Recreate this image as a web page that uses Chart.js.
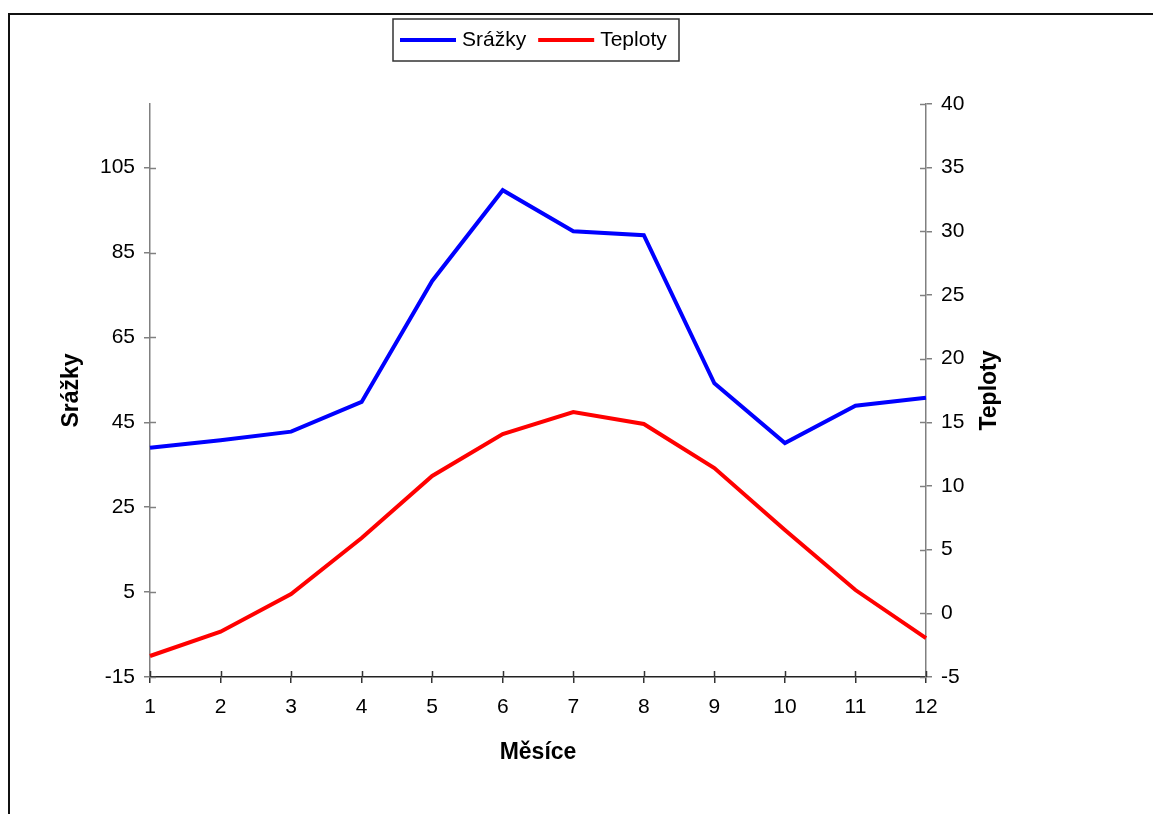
<!DOCTYPE html>
<html lang="cs">
<head>
<meta charset="utf-8">
<title>Srážky a teploty</title>
<script src="https://cdn.jsdelivr.net/npm/chart.js@4.4.1/dist/chart.umd.min.js"></script>
<style>
  html, body { margin: 0; padding: 0; background: #fff; overflow: hidden; }
  #wrap { position: relative; width: 1153px; height: 814px; }
</style>
</head>
<body>
<div id="wrap"><canvas id="chart"></canvas></div>
<script>
// Months and monthly values
const months = ['1', '2', '3', '4', '5', '6', '7', '8', '9', '10', '11', '12'];
const srazky = [39.0, 40.8, 42.8, 49.8, 78.3, 99.7, 90.0, 89.1, 54.2, 40.1, 48.9, 50.8];
const teploty = [-3.35, -1.44, 1.52, 5.92, 10.79, 14.08, 15.81, 14.87, 11.41, 6.54, 1.83, -1.94];

// Axis tick values
const leftTicks = [-15, 5, 25, 45, 65, 85, 105];
const rightTicks = [-5, 0, 5, 10, 15, 20, 25, 30, 35, 40];

const FONT = "'Liberation Sans', Arial, Helvetica, sans-serif";
const TICK_SIZE = 21;
const TITLE_SIZE = 23;

// Frame around the whole drawing
const framePlugin = {
  id: 'frame',
  beforeDraw(chart) {
    const ctx = chart.ctx;
    ctx.save();
    ctx.strokeStyle = '#111';
    ctx.lineWidth = 2;
    ctx.beginPath();
    ctx.moveTo(9, chart.height + 2);
    ctx.lineTo(9, 14);
    ctx.lineTo(chart.width + 2, 14);
    ctx.stroke();
    ctx.restore();
  }
};

// Tick marks that cross into the plot area
const innerTicksPlugin = {
  id: 'innerTicks',
  beforeDatasetsDraw(chart) {
    const ctx = chart.ctx;
    const len = 6;
    ctx.save();
    const y = chart.scales.y, y1 = chart.scales.y1, x = chart.scales.x;
    ctx.lineWidth = 1.5;
    ctx.strokeStyle = '#808080';
    y.ticks.forEach(t => {
      const py = Math.round(y.getPixelForValue(t.value)) + 0.5;
      ctx.beginPath(); ctx.moveTo(y.right, py); ctx.lineTo(y.right + len, py); ctx.stroke();
    });
    y1.ticks.forEach(t => {
      const py = Math.round(y1.getPixelForValue(t.value)) + 0.5;
      ctx.beginPath(); ctx.moveTo(y1.left - len, py); ctx.lineTo(y1.left, py); ctx.stroke();
    });
    ctx.strokeStyle = '#333';
    x.ticks.forEach((t, i) => {
      const px = Math.round(x.getPixelForTick(i)) + 0.5;
      ctx.beginPath(); ctx.moveTo(px, x.top - len); ctx.lineTo(px, x.top); ctx.stroke();
    });
    ctx.restore();
  }
};

// Right axis title, reading bottom to top
const rightTitlePlugin = {
  id: 'rightTitle',
  afterDraw(chart, args, opts) {
    const ctx = chart.ctx;
    const area = chart.chartArea;
    ctx.save();
    ctx.translate(opts.x, (area.top + area.bottom) / 2);
    ctx.rotate(-Math.PI / 2);
    ctx.font = 'bold ' + TITLE_SIZE + 'px ' + FONT;
    ctx.fillStyle = '#000';
    ctx.textAlign = 'center';
    ctx.textBaseline = 'middle';
    ctx.fillText(opts.text, 0, 0);
    ctx.restore();
  }
};

// Boxed legend built from the datasets
const boxLegendPlugin = {
  id: 'boxLegend',
  afterDraw(chart, args, opts) {
    const ctx = chart.ctx;
    ctx.save();
    ctx.strokeStyle = '#333';
    ctx.lineWidth = 1.5;
    ctx.strokeRect(opts.x, opts.y, opts.w, opts.h);
    ctx.font = TICK_SIZE + 'px ' + FONT;
    ctx.textBaseline = 'middle';
    const cy = opts.y + opts.h / 2;
    let cx = opts.x + 7;
    chart.data.datasets.forEach(ds => {
      ctx.strokeStyle = ds.borderColor;
      ctx.lineWidth = 4;
      ctx.beginPath(); ctx.moveTo(cx, cy); ctx.lineTo(cx + 56, cy); ctx.stroke();
      cx += 62;
      ctx.fillStyle = '#000';
      ctx.fillText(ds.label, cx, cy);
      cx += ctx.measureText(ds.label).width + 12;
    });
    ctx.restore();
  }
};

new Chart(document.getElementById('chart'), {
  type: 'line',
  data: {
    labels: months,
    datasets: [
      { label: 'Srážky', data: srazky, yAxisID: 'y', borderColor: '#0000ff', backgroundColor: '#0000ff',
        borderWidth: 4, pointRadius: 0, tension: 0, fill: false },
      { label: 'Teploty', data: teploty, yAxisID: 'y1', borderColor: '#ff0000', backgroundColor: '#ff0000',
        borderWidth: 4, pointRadius: 0, tension: 0, fill: false }
    ]
  },
  options: {
    responsive: true,
    maintainAspectRatio: false,
    animation: false,
    layout: { padding: { top: 104, left: 0, right: 0, bottom: 0 } },
    plugins: {
      legend: { display: false },
      tooltip: { enabled: false },
      rightTitle: { text: 'Teploty', x: 990 },
      boxLegend: { x: 393, y: 19, w: 286, h: 42 }
    },
    scales: {
      x: {
        type: 'category',
        offset: false,
        grid: { display: true, drawOnChartArea: false, drawTicks: true, tickLength: 6, color: '#333', lineWidth: 1.5, offset: false },
        border: { display: true, color: '#222', width: 1.5 },
        ticks: { color: '#000', font: { family: FONT, size: TICK_SIZE }, padding: 12, maxRotation: 0, autoSkip: false },
        title: { display: true, text: 'Měsíce', color: '#000', font: { family: FONT, size: TITLE_SIZE, weight: 'bold' }, padding: { top: 0, bottom: 48 } },
        afterFit(scale) { scale.height = 137; }
      },
      y: {
        position: 'left',
        min: -15,
        max: 120,
        afterBuildTicks(scale) { scale.ticks = leftTicks.map(v => ({ value: v })); },
        grid: { display: true, drawOnChartArea: false, drawTicks: true, tickLength: 6, color: '#808080', lineWidth: 1.5 },
        border: { display: true, color: '#808080', width: 1.5 },
        ticks: { color: '#000', font: { family: FONT, size: TICK_SIZE }, padding: 9 },
        title: { display: true, text: 'Srážky', color: '#000', font: { family: FONT, size: TITLE_SIZE, weight: 'bold' }, padding: { top: 58, bottom: 0 } },
        afterFit(scale) { scale.width = 150; }
      },
      y1: {
        position: 'right',
        min: -5,
        max: 40,
        afterBuildTicks(scale) { scale.ticks = rightTicks.map(v => ({ value: v })); },
        grid: { display: true, drawOnChartArea: false, drawTicks: true, tickLength: 6, color: '#808080', lineWidth: 1.5 },
        border: { display: true, color: '#808080', width: 1.5 },
        ticks: { color: '#000', font: { family: FONT, size: TICK_SIZE }, padding: 9 },
        afterFit(scale) { scale.width = 227; }
      }
    }
  },
  plugins: [framePlugin, innerTicksPlugin, rightTitlePlugin, boxLegendPlugin]
});
</script>
</body>
</html>
